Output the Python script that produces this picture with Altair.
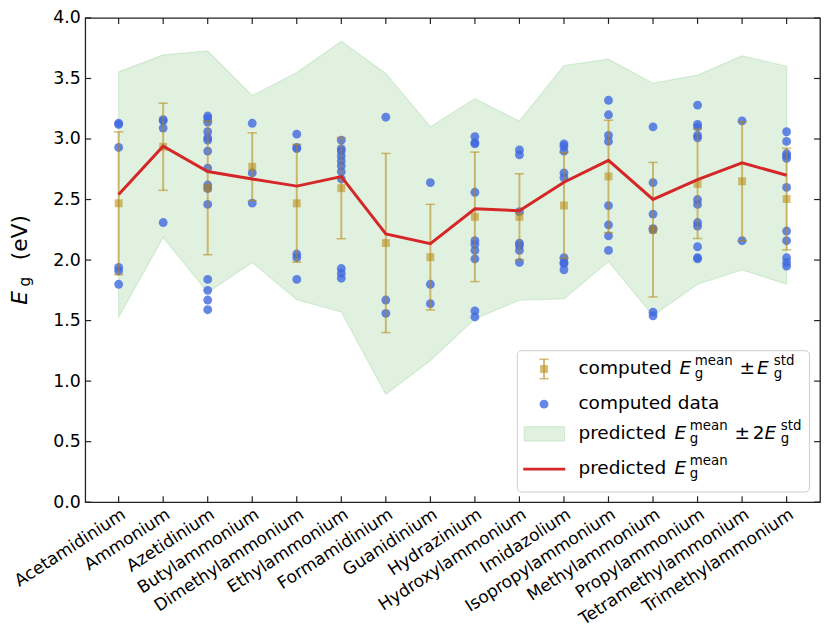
import json
import altair as alt
import pandas as pd

categories = [
    "Acetamidinium", "Ammonium", "Azetidinium", "Butylammonium",
    "Dimethylammonium", "Ethylammonium", "Formamidinium", "Guanidinium",
    "Hydrazinium", "Hydroxylammonium", "Imidazolium", "Isopropylammonium",
    "Methylammonium", "Propylammonium", "Tetramethylammonium", "Trimethylammonium",
]

computed_mean = [2.469, 2.936, 2.597, 2.771, 2.469, 2.594, 2.141, 2.024,
                 2.357, 2.357, 2.451, 2.691, 2.251, 2.629, 2.651, 2.504]
computed_std = [0.590, 0.360, 0.553, 0.280, 0.487, 0.418, 0.740, 0.436,
                0.535, 0.356, 0.437, 0.464, 0.556, 0.451, 0.492, 0.420]

predicted_mean = [2.541, 2.941, 2.731, 2.669, 2.611, 2.690, 2.216, 2.136,
                  2.424, 2.408, 2.643, 2.824, 2.501, 2.664, 2.803, 2.701]
predicted_std = [0.507, 0.377, 0.499, 0.345, 0.469, 0.559, 0.663, 0.483,
                 0.455, 0.370, 0.482, 0.418, 0.480, 0.432, 0.442, 0.450]

computed_data = [
    [3.13, 3.12, 2.93, 1.94, 1.91, 1.80],
    [3.16, 3.15, 3.09, 2.31],
    [3.19, 3.17, 3.14, 3.06, 3.01, 2.99, 2.90, 2.76, 2.62, 2.59, 2.46, 1.84, 1.75, 1.67, 1.59],
    [3.13, 2.72, 2.47],
    [3.04, 2.93, 2.92, 2.05, 2.02, 1.84],
    [2.99, 2.92, 2.90, 2.86, 2.82, 2.78, 2.73, 2.67, 1.93, 1.89, 1.85],
    [3.18, 1.67, 1.56],
    [2.64, 1.80, 1.64],
    [3.02, 2.97, 2.96, 2.56, 2.16, 2.13, 2.08, 2.01, 1.58, 1.53],
    [2.91, 2.87, 2.40, 2.14, 2.12, 2.08, 1.98],
    [2.96, 2.94, 2.90, 2.72, 2.68, 2.02, 1.98, 1.97, 1.92],
    [3.32, 3.20, 3.03, 2.98, 2.45, 2.29, 2.20, 2.08],
    [3.10, 2.64, 2.38, 2.26, 2.25, 1.57, 1.54],
    [3.28, 3.12, 3.10, 3.03, 3.01, 2.50, 2.46, 2.31, 2.28, 2.11, 2.02, 2.01],
    [3.15, 2.16],
    [3.06, 2.98, 2.88, 2.86, 2.84, 2.60, 2.24, 2.16, 2.02, 1.98, 1.95],
]

y_tick_values = [0.0, 0.5, 1.0, 1.5, 2.0, 2.5, 3.0, 3.5, 4.0]

W, H = 742, 489
FONT = "DejaVu Sans"
BLUE = "#4169e1"
GOLD = "#b8860b"
GREEN = "#2ca02c"
RED = "#d62728"
SPINE = "#222222"

summary = pd.DataFrame({
    "idx": list(range(len(categories))),
    "category": categories,
    "cm": computed_mean,
    "cs": computed_std,
    "pm": predicted_mean,
    "ps": predicted_std,
})
summary["c_lo"] = summary["cm"] - summary["cs"]
summary["c_hi"] = summary["cm"] + summary["cs"]
summary["b_lo"] = summary["pm"] - 2 * summary["ps"]
summary["b_hi"] = summary["pm"] + 2 * summary["ps"]

points = pd.DataFrame(
    [{"idx": i, "Eg": v} for i, vals in enumerate(computed_data) for v in vals]
)
xticks = pd.DataFrame({"idx": list(range(len(categories)))})
yticks = pd.DataFrame({"v": y_tick_values})
one = pd.DataFrame({"k": [0]})

x_scale = alt.Scale(domain=[-0.75, 15.75], nice=False, zero=False)
y_scale = alt.Scale(domain=[0, 4], nice=False)

x_axis = alt.Axis(
    values=list(range(len(categories))),
    labelExpr=json.dumps(categories) + "[datum.value]",
    labelAngle=327, labelAlign="right", labelBaseline="top",
    labelPadding=3, labelFontSize=17.2, labelFont=FONT, labelColor="black",
    labelOverlap=False, labelFlush=False, labelLimit=0,
    domain=False, ticks=False, tickSize=0, grid=False, title=None,
)
y_axis = alt.Axis(
    values=y_tick_values, format=".1f",
    labelFontSize=17.5, labelFont=FONT, labelColor="black", labelPadding=5,
    domain=False, ticks=False, tickSize=0, grid=False, title=None,
)


def X(field="idx"):
    return alt.X(f"{field}:Q", scale=x_scale, axis=x_axis)


def Y(field):
    return alt.Y(f"{field}:Q", scale=y_scale, axis=y_axis)


band = alt.Chart(summary).mark_area(
    fill=GREEN, fillOpacity=0.15, stroke=GREEN, strokeOpacity=0.15, strokeWidth=1.2
).encode(x=X(), y=Y("b_lo"), y2="b_hi:Q")

scatter = alt.Chart(points).mark_circle(
    color=BLUE, opacity=0.8, size=80
).encode(x=X(), y=Y("Eg"))

err_rule = alt.Chart(summary).mark_rule(
    color=GOLD, opacity=0.55, strokeWidth=2
).encode(x=X(), y=Y("c_lo"), y2="c_hi:Q")

cap_lo = alt.Chart(summary).mark_point(
    shape="M-1,0H1", size=90, filled=False, color=GOLD, opacity=0.55, strokeWidth=1.5
).encode(x=X(), y=Y("c_lo"))
cap_hi = alt.Chart(summary).mark_point(
    shape="M-1,0H1", size=90, filled=False, color=GOLD, opacity=0.55, strokeWidth=1.5
).encode(x=X(), y=Y("c_hi"))

squares = alt.Chart(summary).mark_point(
    shape="square", filled=True, size=64, color=GOLD, opacity=0.55
).encode(x=X(), y=Y("cm"))

red_line = alt.Chart(summary).mark_line(
    color=RED, strokeWidth=3
).encode(x=X(), y=Y("pm"))

# inward ticks on all four sides
tick_style = dict(color=SPINE, strokeWidth=1.2)
tk_bottom = alt.Chart(xticks).mark_rule(**tick_style).encode(
    x=X(), y=alt.value(H), y2=alt.value(H - 6))
tk_top = alt.Chart(xticks).mark_rule(**tick_style).encode(
    x=X(), y=alt.value(0), y2=alt.value(6))
tk_left = alt.Chart(yticks).mark_rule(**tick_style).encode(
    y=Y("v"), x=alt.value(0), x2=alt.value(6))
tk_right = alt.Chart(yticks).mark_rule(**tick_style).encode(
    y=Y("v"), x=alt.value(W - 6), x2=alt.value(W))


def txt(s, x, y, size, italic=False, angle=0):
    kw = dict(text=s, fontSize=size, font=FONT, color="black",
              align="left", baseline="alphabetic",
              fontStyle="italic" if italic else "normal")
    if angle:
        kw["angle"] = angle
    return alt.Chart(one).mark_text(**kw).encode(x=alt.value(x), y=alt.value(y))


# y-axis title: E_g (eV)
ytitle = [
    txt("E", -59.3, 289.7, 22, italic=True, angle=270),
    txt("g", -55.5, 271.3, 15.4, angle=270),
    txt("(eV)", -59.3, 244.7, 22, angle=270),
]

# legend (pixel layout inside the plot, lower right)
MAIN, SMALL = 18.7, 13.5
DX, DY = -4, -6
legend = [
    alt.Chart(one).mark_rect(
        fill="white", fillOpacity=0.8, stroke="#cccccc", strokeWidth=1, cornerRadius=4
    ).encode(x=alt.value(440.3 + DX), x2=alt.value(735.3 + DX),
             y=alt.value(342 + DY), y2=alt.value(484.7 + DY)),
    # errorbar symbol
    alt.Chart(one).mark_rule(color=GOLD, opacity=0.55, strokeWidth=2).encode(
        x=alt.value(467.3 + DX), y=alt.value(350.7 + DY), y2=alt.value(370.3 + DY)),
    alt.Chart(one).mark_point(shape="M-1,0H1", size=90, filled=False, color=GOLD,
                              opacity=0.55, strokeWidth=1.5).encode(
        x=alt.value(467.3 + DX), y=alt.value(350.7 + DY)),
    alt.Chart(one).mark_point(shape="M-1,0H1", size=90, filled=False, color=GOLD,
                              opacity=0.55, strokeWidth=1.5).encode(
        x=alt.value(467.3 + DX), y=alt.value(370.3 + DY)),
    alt.Chart(one).mark_point(shape="square", filled=True, size=64, color=GOLD,
                              opacity=0.55).encode(
        x=alt.value(467.3 + DX), y=alt.value(360.5 + DY)),
    # circle symbol
    alt.Chart(one).mark_circle(color=BLUE, opacity=0.8, size=80).encode(
        x=alt.value(467.3 + DX), y=alt.value(396 + DY)),
    # band symbol
    alt.Chart(one).mark_rect(fill=GREEN, fillOpacity=0.15, stroke=GREEN,
                             strokeOpacity=0.15, strokeWidth=1.2).encode(
        x=alt.value(447.3 + DX), x2=alt.value(488 + DX),
        y=alt.value(418.7 + DY), y2=alt.value(433.3 + DY)),
    # line symbol
    alt.Chart(one).mark_rule(color=RED, strokeWidth=3).encode(
        x=alt.value(446.3 + DX), x2=alt.value(488.7 + DX), y=alt.value(461.6 + DY)),
    # entry 1
    txt("computed", 502 + DX, 365.3 + DY, MAIN),
    txt("E", 604.2 + DX, 365.3 + DY, MAIN, italic=True),
    txt("mean", 619.5 + DX, 356.7 + DY, SMALL),
    txt("g", 619.5 + DX, 369.3 + DY, SMALL),
    txt("±", 664.8 + DX, 365.3 + DY, MAIN),
    txt("E", 682.3 + DX, 365.3 + DY, MAIN, italic=True),
    txt("std", 699.3 + DX, 356.7 + DY, SMALL),
    txt("g", 699.3 + DX, 369.3 + DY, SMALL),
    # entry 2
    txt("computed data", 502 + DX, 400.9 + DY, MAIN),
    # entry 3
    txt("predicted", 502 + DX, 431.1 + DY, MAIN),
    txt("E", 599.0 + DX, 431.1 + DY, MAIN, italic=True),
    txt("mean", 614.5 + DX, 422.5 + DY, SMALL),
    txt("g", 614.5 + DX, 435.1 + DY, SMALL),
    txt("±", 659.6 + DX, 431.1 + DY, MAIN),
    txt("2", 678.0 + DX, 431.1 + DY, MAIN),
    txt("E", 689.9 + DX, 431.1 + DY, MAIN, italic=True),
    txt("std", 706.3 + DX, 422.5 + DY, SMALL),
    txt("g", 706.3 + DX, 435.1 + DY, SMALL),
    # entry 4
    txt("predicted", 502 + DX, 466.3 + DY, MAIN),
    txt("E", 599.0 + DX, 466.3 + DY, MAIN, italic=True),
    txt("mean", 614.5 + DX, 457.7 + DY, SMALL),
    txt("g", 614.5 + DX, 470.3 + DY, SMALL),
]

chart = alt.layer(
    band, scatter, err_rule, cap_lo, cap_hi, squares, red_line,
    tk_bottom, tk_top, tk_left, tk_right,
    *ytitle, *legend,
).properties(
    width=W, height=H,
    padding={"left": 78, "top": 7, "right": 2, "bottom": 124},
    autosize=alt.AutoSizeParams(type="none"),
).configure(font=FONT).configure_view(stroke=SPINE, strokeWidth=1.3)

chart.save("out.html", embed_options={"renderer": "svg", "actions": False})
